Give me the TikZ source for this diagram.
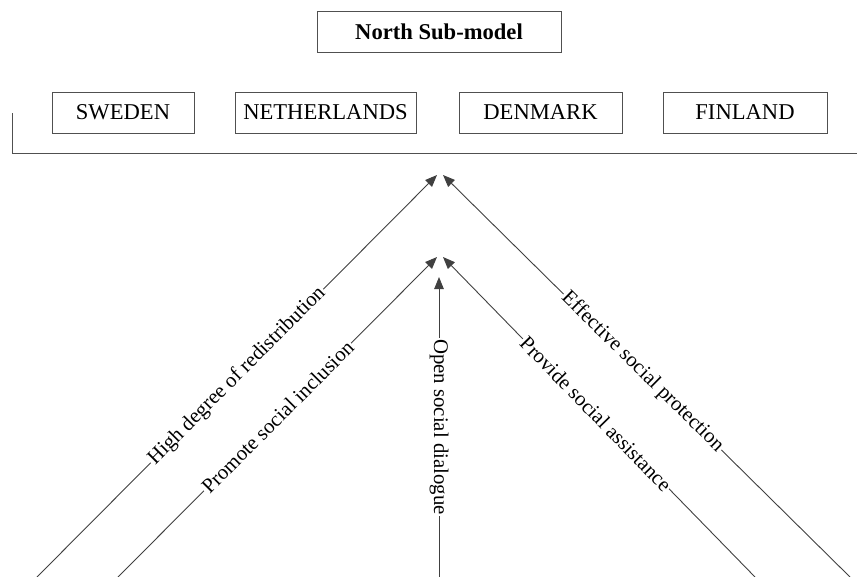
\documentclass[tikz,border=0pt]{standalone}
\usepackage{fontspec}
\setmainfont{Liberation Serif}
\usetikzlibrary{arrows.meta}
\definecolor{boxgray}{HTML}{505050}
\definecolor{linegray}{HTML}{404040}
\begin{document}
\begin{tikzpicture}[x=1pt,y=-1pt,
  box/.style={draw=boxgray, line width=0.9pt, minimum height=41pt, inner sep=0pt,
    font=\fontsize{22.6}{26}\selectfont},
  link/.style={draw=linegray, line width=0.9pt, -{Triangle[length=12pt,width=9.5pt]}},
  lbl/.style={fill=white, inner sep=1.2pt, font=\fontsize{20.8}{24}\selectfont},
  bracket/.style={draw=boxgray, line width=0.9pt}
]
\useasboundingbox (0,0) rectangle (857,576);

% title and country boxes
\node[box, minimum width=244pt] (title) at (439,31.5) {\bfseries North Sub-model};
\node[box, minimum width=142pt] (sweden) at (123,112.5) {SWEDEN};
\node[box, minimum width=181pt] (neth) at (325.5,112.5) {NETHERLANDS};
\node[box, minimum width=163pt] (denmark) at (540.5,112.5) {DENMARK};
\node[box, minimum width=164pt] (finland) at (745,112.5) {FINLAND};

% bracket line
\coordinate (brtop) at (12,113);
\coordinate (brcorner) at (12,153);
\coordinate (brend) at (857,153);
\draw[bracket] (brtop) -- (brcorner) -- (brend);

% connector end points
\coordinate (b1) at (37,577);
\coordinate (t1) at (437,175);
\coordinate (b2) at (118,577);
\coordinate (t2) at (437,257);
\coordinate (b3) at (439,577);
\coordinate (t3) at (439,277);
\coordinate (b4) at (755,577);
\coordinate (t4) at (443,257);
\coordinate (b5) at (850,577);
\coordinate (t5) at (443,175);

\draw[link] (b1) -- node[lbl, sloped, pos=0.5] {High degree of redistribution} (t1);
\draw[link] (b2) -- node[lbl, sloped, pos=0.5] {Promote social inclusion} (t2);
\draw[link] (b3) -- node[lbl, rotate=-90, pos=0.5] {Open social dialogue} (t3);
\draw[link] (b4) -- node[lbl, sloped, pos=0.51] {Provide social assistance} (t4);
\draw[link] (b5) -- node[lbl, sloped, pos=0.51] {Effective social protection} (t5);
\end{tikzpicture}
\end{document}
